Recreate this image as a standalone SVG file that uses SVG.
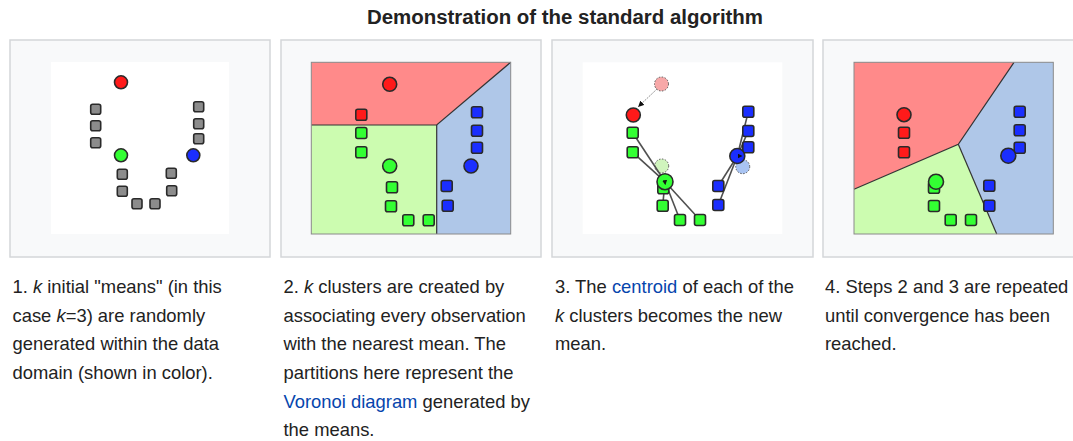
<svg xmlns="http://www.w3.org/2000/svg" xmlns:xlink="http://www.w3.org/1999/xlink" width="1073" height="441" viewBox="0 0 1073 441">
<style>
.bg{fill:#ffffff}
.frame{fill:#f8f9fa;stroke:#d4d6d9;stroke-width:1.5}
.dom{fill:#ffffff}
.out{fill:none;stroke:#8a8a8a;stroke-width:1}
.bd{fill:none;stroke:#333;stroke-width:1.2}
.pt{stroke:#2a2a2a;stroke-width:1.6}
.gr{fill:#8c8c8c}
.r{fill:#ff1a1a}
.g{fill:#33ff33}
.b{fill:#1a2eff}
.rz{fill:#ff8a8a}
.gz{fill:#ccfcb0}
.bz{fill:#afc7e8}
.ghost{stroke:#555;stroke-width:1;stroke-dasharray:1.5 1.5}
.rf{fill:#f7a8a8}
.gf{fill:#d0f4bd}
.bf{fill:#a9c4f2}
.lk{stroke:#505050;stroke-width:1.6;fill:none}
.mv{stroke:#777;stroke-width:0.8;fill:none;stroke-dasharray:2 1}
.title{font-family:"Liberation Sans",Arial,sans-serif;font-weight:bold;font-size:20px;fill:#222}
.cap{font-family:"Liberation Sans",Arial,sans-serif;font-size:18.4px;fill:#222}
.a{fill:#0645ad}
.i{font-style:italic}
</style>
<defs>
<rect id="s10" x="-5" y="-5" width="10" height="10" rx="2"/>
<rect id="s11" x="-5.5" y="-5.5" width="11" height="11" rx="2"/>
<marker id="ah" viewBox="0 0 10 10" refX="9" refY="5" markerWidth="6" markerHeight="6" orient="auto" markerUnits="userSpaceOnUse">
<path d="M0,0 L10,5 L0,10 z" fill="#111"/>
</marker>
<marker id="ahs" viewBox="0 0 10 10" refX="5" refY="5" markerWidth="5" markerHeight="5" orient="auto" markerUnits="userSpaceOnUse">
<path d="M0,0 L10,5 L0,10 z" fill="#111"/>
</marker>
</defs>
<rect class="bg" x="0" y="0" width="1073" height="441"/>
<text class="title" x="565" y="23.5" text-anchor="middle" textLength="396" lengthAdjust="spacingAndGlyphs">Demonstration of the standard algorithm</text>

<g id="panel1">
<rect class="frame" x="10" y="40" width="260" height="217"/>
<rect class="dom" x="51" y="62" width="178" height="172"/>
<g class="pt gr">
<use xlink:href="#s10" x="95.7" y="109.3"/><use xlink:href="#s10" x="95.7" y="125.7"/><use xlink:href="#s10" x="95.7" y="142.7"/>
<use xlink:href="#s10" x="198.7" y="106.7"/><use xlink:href="#s10" x="198.7" y="123.7"/><use xlink:href="#s10" x="198.7" y="138.7"/>
<use xlink:href="#s10" x="122.3" y="174.3"/><use xlink:href="#s10" x="122.3" y="191.3"/><use xlink:href="#s10" x="137" y="203.7"/>
<use xlink:href="#s10" x="155" y="203.7"/><use xlink:href="#s10" x="171.3" y="173.3"/><use xlink:href="#s10" x="171.7" y="190.7"/>
</g>
<circle class="pt r" cx="121" cy="82.3" r="6.5"/>
<circle class="pt g" cx="121" cy="155.3" r="6.5"/>
<circle class="pt b" cx="193.3" cy="155.3" r="6.5"/>
</g>

<g id="panel2">
<rect class="frame" x="281" y="40" width="260" height="217"/>
<polygon class="rz" points="311.3,62.3 510.7,62.3 436.7,125 311.3,125"/>
<polygon class="gz" points="311.3,125 436.7,125 436.7,234 311.3,234"/>
<polygon class="bz" points="510.7,62.3 510.7,234 436.7,234 436.7,125"/>
<polyline class="bd" points="311.3,125 436.7,125 510.7,62.3"/>
<line class="bd" x1="436.7" y1="125" x2="436.7" y2="234"/>
<rect class="out" x="311.3" y="62.3" width="199.4" height="171.7"/>
<g class="pt r"><use xlink:href="#s11" x="361.3" y="114.7"/></g>
<g class="pt g">
<use xlink:href="#s11" x="361.3" y="133"/><use xlink:href="#s11" x="361.3" y="152.3"/><use xlink:href="#s11" x="392" y="187.3"/>
<use xlink:href="#s11" x="391" y="206.3"/><use xlink:href="#s11" x="408.3" y="220.3"/><use xlink:href="#s11" x="428.7" y="220.3"/>
</g>
<g class="pt b">
<use xlink:href="#s11" x="477" y="112.3"/><use xlink:href="#s11" x="477" y="130.7"/><use xlink:href="#s11" x="477" y="147.7"/>
<use xlink:href="#s11" x="446.7" y="186"/><use xlink:href="#s11" x="447.7" y="205.7"/>
</g>
<circle class="pt r" cx="389.7" cy="84.3" r="7"/>
<circle class="pt g" cx="389.7" cy="166" r="7"/>
<circle class="pt b" cx="471" cy="166" r="7"/>
</g>

<g id="panel3">
<rect class="frame" x="552" y="40" width="261" height="217"/>
<rect class="dom" x="582.7" y="62.3" width="199.6" height="171.7"/>
<circle class="ghost rf" cx="661.5" cy="84" r="7"/>
<circle class="ghost gf" cx="661.7" cy="166" r="7"/>
<circle class="ghost bf" cx="742.7" cy="166.7" r="7"/>
</g>

<g id="connectors">
<line class="lk" x1="632.7" y1="132.7" x2="665" y2="181.7"/>
<line class="lk" x1="632.7" y1="152.3" x2="665" y2="181.7"/>
<line class="lk" x1="662.7" y1="205.7" x2="665" y2="181.7"/>
<line class="lk" x1="680" y1="220" x2="665" y2="181.7"/>
<line class="lk" x1="700" y1="220" x2="665" y2="181.7"/>
<line class="lk" x1="748.3" y1="111.7" x2="737.3" y2="156"/>
<line class="lk" x1="748.3" y1="131" x2="737.3" y2="156"/>
<line class="lk" x1="748.3" y1="147.3" x2="737.3" y2="156"/>
<line class="lk" x1="718.3" y1="186" x2="737.3" y2="156"/>
<line class="lk" x1="718.3" y1="205" x2="737.3" y2="156"/>
<line class="mv" x1="657" y1="89" x2="638.5" y2="106.5" marker-end="url(#ah)"/>
</g>

<g id="panel3-points">
<g class="pt g">
<use xlink:href="#s11" x="632.7" y="132.7"/><use xlink:href="#s11" x="632.7" y="152.3"/><use xlink:href="#s11" x="663.3" y="188.3"/>
<use xlink:href="#s11" x="662.7" y="205.7"/><use xlink:href="#s11" x="680" y="220"/><use xlink:href="#s11" x="700" y="220"/>
</g>
<g class="pt b">
<use xlink:href="#s11" x="748.3" y="111.7"/><use xlink:href="#s11" x="748.3" y="131"/><use xlink:href="#s11" x="748.3" y="147.3"/>
<use xlink:href="#s11" x="718.3" y="186"/><use xlink:href="#s11" x="718.3" y="205"/>
</g>
<circle class="pt r" cx="633.3" cy="115" r="7"/>
<circle class="pt g" cx="665" cy="181.7" r="8"/>
<circle class="pt b" cx="737.3" cy="156" r="7.5"/>
<line x1="664.4" y1="178.7" x2="665" y2="182.7" stroke="none" marker-end="url(#ahs)"/>
<line x1="736" y1="156" x2="740" y2="156" stroke="none" marker-end="url(#ahs)"/>
</g>

<g id="panel4">
<rect class="frame" x="823" y="40" width="260" height="217"/>
<polygon class="rz" points="854,62.3 1014,62.3 958.3,144.3 854,189.3"/>
<polygon class="bz" points="1014,62.3 1053.3,62.3 1053.3,234 996.7,234 958.3,144.3"/>
<polygon class="gz" points="854,189.3 958.3,144.3 996.7,234 854,234"/>
<polyline class="bd" points="854,189.3 958.3,144.3 1014,62.3"/>
<line class="bd" x1="958.3" y1="144.3" x2="996.7" y2="234"/>
<rect class="out" x="854" y="62.3" width="199.3" height="171.7"/>
<g class="pt r">
<use xlink:href="#s11" x="904" y="132.7"/><use xlink:href="#s11" x="904" y="152.3"/>
</g>
<g class="pt g">
<use xlink:href="#s11" x="934" y="187.7"/><use xlink:href="#s11" x="934" y="206"/><use xlink:href="#s11" x="950.7" y="220"/><use xlink:href="#s11" x="971" y="220"/>
</g>
<g class="pt b">
<use xlink:href="#s11" x="1019.7" y="111.7"/><use xlink:href="#s11" x="1019.7" y="130.3"/><use xlink:href="#s11" x="1019.7" y="147.7"/>
<use xlink:href="#s11" x="989.3" y="185.7"/><use xlink:href="#s11" x="989.3" y="205.7"/>
</g>
<circle class="pt r" cx="904" cy="114.7" r="7"/>
<circle class="pt g" cx="936" cy="181.7" r="7.5"/>
<circle class="pt b" cx="1008.3" cy="155.7" r="7.5"/>
</g>

<g id="captions">
<text class="cap" x="12.5" y="292.7">1. <tspan class="i">k</tspan> initial "means" (in this</text>
<text class="cap" x="12.5" y="321.5">case <tspan class="i">k</tspan>=3) are randomly</text>
<text class="cap" x="12.5" y="350.2">generated within the data</text>
<text class="cap" x="12.5" y="379">domain (shown in color).</text>

<text class="cap" x="283.5" y="292.7">2. <tspan class="i">k</tspan> clusters are created by</text>
<text class="cap" x="283.5" y="321.5">associating every observation</text>
<text class="cap" x="283.5" y="350.2">with the nearest mean. The</text>
<text class="cap" x="283.5" y="379">partitions here represent the</text>
<text class="cap" x="283.5" y="407.7"><tspan class="a">Voronoi diagram</tspan> generated by</text>
<text class="cap" x="283.5" y="436.3">the means.</text>

<text class="cap" x="555" y="292.7">3. The <tspan class="a">centroid</tspan> of each of the</text>
<text class="cap" x="555" y="321.5"><tspan class="i">k</tspan> clusters becomes the new</text>
<text class="cap" x="555" y="350.2">mean.</text>

<text class="cap" x="825" y="292.7">4. Steps 2 and 3 are repeated</text>
<text class="cap" x="825" y="321.5">until convergence has been</text>
<text class="cap" x="825" y="350.2">reached.</text>
</g>
</svg>
